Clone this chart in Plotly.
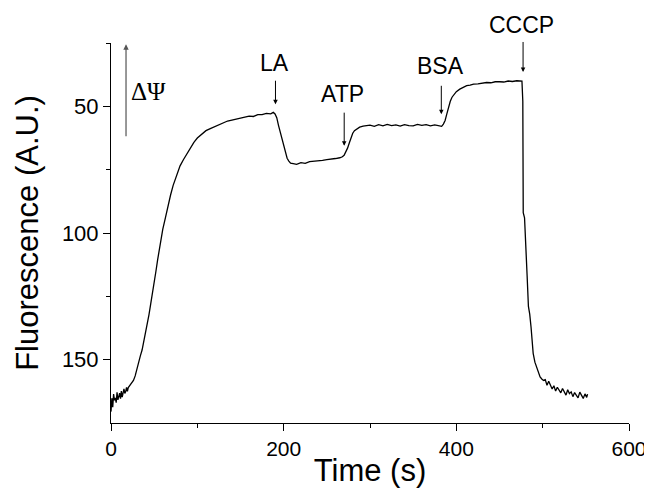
import plotly.graph_objects as go

# trace (time in s, fluorescence in A.U.)
time_s = [0, 1, 2, 3, 4, 5, 6, 7, 8, 9, 10, 11, 12, 13, 14, 15, 16, 17, 18, 19,
          20, 22, 24, 26, 28, 30, 32, 34, 36, 38, 40, 42, 44, 46, 48, 50, 52, 54,
          56, 58, 60, 63, 66, 69, 72, 76, 80, 84, 88, 92, 96, 100, 105, 110, 115,
          120, 125, 130, 135, 140, 145, 150, 155, 160, 165, 170, 175, 180, 185,
          188, 190, 192, 194, 196, 198, 200, 202, 204, 206, 208, 211, 215, 220,
          225, 230, 235, 240, 245, 250, 255, 260, 265, 268, 270, 272, 274, 276,
          278, 280, 282, 285, 288, 292, 296, 300, 305, 310, 315, 320, 325, 330,
          335, 340, 345, 350, 355, 360, 365, 370, 375, 380, 383, 385, 387, 389,
          391, 393, 395, 397, 400, 404, 408, 412, 416, 420, 425, 430, 435, 440,
          445, 450, 455, 460, 465, 470, 474, 476, 477, 477.5, 479, 481, 482,
          483.5, 485, 486.5, 488, 489, 491, 493, 495, 497, 499, 501, 503, 505,
          507, 509, 511, 513, 515, 517, 519, 521, 523, 525, 527, 529, 531, 533,
          535, 537, 539, 541, 543, 545, 547, 549, 551, 552]
fluor = [170.5, 165.2, 168.8, 163.6, 166.0, 165.1, 167.0, 162.9, 165.9, 164.1,
         163.2, 165.4, 162.4, 164.8, 163.5, 161.5, 163.3, 162.6, 160.9, 162.5,
         161.0, 160.2, 159.0, 158.2, 156.4, 153.5, 151.2, 148.5, 146.2, 143.0,
         140.0, 136.0, 132.2, 128.0, 124.2, 120.0, 115.2, 110.6, 106.2, 102.0,
         98.5, 94.0, 89.2, 85.0, 81.2, 77.6, 73.5, 71.0, 68.6, 66.2, 64.2, 62.5,
         61.0, 59.6, 58.8, 58.0, 57.2, 56.6, 55.8, 55.4, 55.0, 54.7, 54.2, 53.9,
         54.0, 53.3, 53.3, 52.8, 53.0, 52.4, 53.0, 54.5, 57.5, 60.0, 63.0, 66.0,
         68.5, 70.5, 71.6, 72.4, 72.6, 72.9, 72.2, 72.5, 71.8, 71.7, 71.5, 71.3,
         71.0, 70.9, 70.6, 70.3, 69.9, 69.3, 68.0, 66.5, 64.5, 62.5, 60.6, 59.6,
         58.8, 58.2, 57.8, 57.6, 57.4, 57.9, 57.2, 57.7, 57.1, 57.6, 57.3, 57.8,
         57.2, 57.6, 57.7, 57.1, 57.5, 57.2, 57.7, 57.3, 57.5, 57.9, 57.0, 55.6,
         53.0, 50.0, 48.0, 46.4, 45.3, 44.2, 43.2, 42.4, 41.8, 41.6, 41.2, 41.1,
         40.8, 40.6, 40.7, 40.3, 40.3, 40.4, 40.0, 40.2, 39.9, 39.8, 40.0, 48.0,
         92.0, 94.0, 114.0, 117.0, 129.0, 132.0, 137.0, 144.0, 147.5, 151.0,
         153.0, 155.0, 156.8, 157.6, 158.2, 157.9, 160.1, 158.5, 160.2, 161.6,
         160.3, 162.4, 160.9, 161.8, 163.1, 161.4, 162.9, 164.0, 161.9, 163.4,
         162.7, 164.6, 163.0, 163.9, 165.1, 162.8, 164.2, 165.3, 163.5, 164.9,
         163.6, 165.6, 164.1, 165.0]

# additions: label and the time it was added
add_labels = ["LA", "ATP", "BSA", "CCCP"]
add_time = [190.5, 270.1, 382.6, 477.3]

font_main = "Arial, Liberation Sans, sans-serif"
y_lo, y_hi = 25, 175


def to_paper(v):
    return (y_hi - v) / (y_hi - y_lo)


fig = go.Figure()
fig.add_trace(go.Scatter(
    x=time_s,
    y=fluor,
    mode="lines",
    line=dict(color="black", width=1.3),
    showlegend=False,
))

# arrow geometry for each addition: (tail y, head y, label y)
arrow_geom = [(39.3, 49.2, 32.8), (51.9, 65.6, 45.3), (41.3, 53.1, 34.1), (24.0, 36.4, 18.0)]
for lab, t, (tail, head, ty) in zip(add_labels, add_time, arrow_geom):
    fig.add_annotation(x=t, y=head, ax=t, ay=tail, xref="x", yref="y",
                       axref="x", ayref="y", text="", showarrow=True,
                       arrowhead=2, arrowsize=0.9, arrowwidth=1, arrowcolor="black")
    fig.add_annotation(x=t - 1.5, y=to_paper(ty), xref="x", yref="paper", text=lab,
                       showarrow=False, xanchor="center", yanchor="middle",
                       font=dict(family=font_main, size=23, color="black"))

# delta psi arrow
fig.add_annotation(x=17.4, y=25.5, ax=17.4, ay=62.4, xref="x", yref="y",
                   axref="x", ayref="y", text="", showarrow=True,
                   arrowhead=2, arrowsize=0.9, arrowwidth=1.2, arrowcolor="#555555")
fig.add_annotation(x=43, y=44.2, xref="x", yref="y", text="ΔΨ", showarrow=False,
                   xanchor="center", yanchor="middle",
                   font=dict(family="Liberation Serif, Times New Roman, serif", size=25, color="black"))

# page body has an 8px offset, so margins are shifted to compensate
fig.update_layout(
    width=652, height=488,
    margin=dict(l=103, r=31, t=35, b=73),
    paper_bgcolor="white", plot_bgcolor="white",
    font=dict(family=font_main, color="black"),
)
fig.update_xaxes(
    range=[0, 600], tickvals=[0, 200, 400, 600], automargin=False,
    showline=True, linecolor="black", linewidth=1, mirror=False,
    showgrid=False, zeroline=False,
    ticks="outside", ticklen=7, tickwidth=1, tickcolor="black",
    minor=dict(tickvals=[100, 300, 500], ticks="outside", ticklen=4, tickcolor="black", showgrid=False),
    tickfont=dict(size=21),
    title=dict(text="Time (s)", font=dict(size=31), standoff=0),
)
fig.update_yaxes(
    range=[y_hi, y_lo], tickvals=[50, 100, 150], automargin=False,
    showline=True, linecolor="black", linewidth=1, mirror=False,
    showgrid=False, zeroline=False,
    ticks="outside", ticklen=7, tickwidth=1, tickcolor="black",
    minor=dict(tickvals=[25, 75, 125], ticks="outside", ticklen=4, tickcolor="black", showgrid=False),
    tickfont=dict(size=22),
    title=dict(text="Fluorescence (A.U.)", font=dict(size=31), standoff=14),
)

fig.write_html("out.html")
